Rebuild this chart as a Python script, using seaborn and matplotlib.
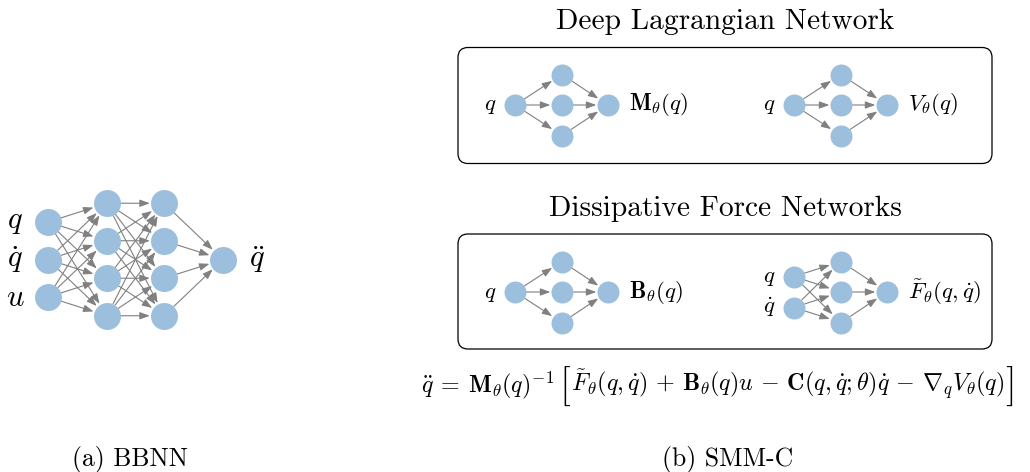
import numpy as np
import pandas as pd
import matplotlib
matplotlib.use('Agg')
import matplotlib.pyplot as plt
import seaborn as sns
from matplotlib.patches import FancyArrowPatch, FancyBboxPatch

# Diagram content
bbnn_inputs = ['$q$', r'$\dot{q}$', '$u$']
bbnn_hidden = [4, 4]
bbnn_output = r'$\ddot{q}$'

sub_inputs = [['$q$'], ['$q$'], ['$q$'], ['$q$', r'$\dot{q}$']]
sub_hidden = [3, 3, 3, 3]
sub_outputs = [r'$\mathbf{M}_\theta(q)$', r'$V_\theta(q)$',
               r'$\mathbf{B}_\theta(q)$', r'$\tilde{F}_\theta(q,\dot{q})$']
group_titles = ['Deep Lagrangian Network', 'Dissipative Force Networks']
captions = ['(a) BBNN', '(b) SMM-C']
eq_lhs = r'$\ddot{q}\:=\:\mathbf{M}_\theta(q)^{-1}$'
eq_rhs = (r'$\tilde{F}_\theta(q,\dot{q})\,+\,\mathbf{B}_\theta(q)u\,-\,'
          r'\mathbf{C}(q,\dot{q};\theta)\dot{q}\,-\,\nabla_q V_\theta(q)$')

# Layout (pixel coordinates)
node_color = '#9bbfdc'
arrow_color = '#808080'
bbnn_x = [48, 107, 164, 223]
bbnn_cy = 259.5
bbnn_sp = 37.5
bbnn_r = 13.5
sub_origin = [(515, 105), (794, 105), (515, 292), (794, 292)]
sub_dx = [0, 47, 93]
sub_sp = 30.5
sub_in_sp = 31
sub_r = 11
boxes = [(458, 47.5, 534, 116), (458, 234, 534, 115)]
title_y = [29, 216]

plt.rcParams['mathtext.fontset'] = 'cm'
fig = plt.figure(figsize=(10.3, 4.72), dpi=100)
ax = fig.add_axes([0, 0, 1, 1])


def column(x, n, cy, sp):
    return [(x, cy + (i - (n - 1) / 2) * sp) for i in range(n)]


def connect(src, dst, r):
    pt = r * 0.72
    for a in src:
        for b in dst:
            ax.add_patch(FancyArrowPatch(a, b, arrowstyle='-|>,head_length=0.6,head_width=0.22',
                                         mutation_scale=10, color=arrow_color, lw=0.8,
                                         shrinkA=pt, shrinkB=pt + 0.5, zorder=1))


# BBNN
big_nodes = []
layers = [column(bbnn_x[0], len(bbnn_inputs), bbnn_cy, bbnn_sp)]
for k, n in enumerate(bbnn_hidden):
    layers.append(column(bbnn_x[k + 1], n, bbnn_cy, bbnn_sp))
layers.append(column(bbnn_x[-1], 1, bbnn_cy, bbnn_sp))
for l in layers:
    big_nodes += l
for a, b in zip(layers[:-1], layers[1:]):
    connect(a, b, bbnn_r)
for (x, y), lab in zip(layers[0], bbnn_inputs):
    ax.text(x - 33, y, lab, fontsize=22, ha='center', va='center')
ax.text(bbnn_x[-1] + 34, bbnn_cy, bbnn_output, fontsize=22, ha='center', va='center')

# SMM-C sub-networks
small_nodes = []
for (ox, oy), ins, nh, out in zip(sub_origin, sub_inputs, sub_hidden, sub_outputs):
    l0 = column(ox + sub_dx[0], len(ins), oy, sub_in_sp)
    l1 = column(ox + sub_dx[1], nh, oy, sub_sp)
    l2 = column(ox + sub_dx[2], 1, oy, sub_sp)
    small_nodes += l0 + l1 + l2
    connect(l0, l1, sub_r)
    connect(l1, l2, sub_r)
    for (x, y), lab in zip(l0, ins):
        ax.text(x - 25, y, lab, fontsize=16.5, ha='center', va='center')
    ax.text(ox + sub_dx[2] + 21, oy, out, fontsize=16.5, ha='left', va='center')

big = pd.DataFrame(big_nodes, columns=['x', 'y'])
small = pd.DataFrame(small_nodes, columns=['x', 'y'])
sns.scatterplot(data=big, x='x', y='y', s=(2 * bbnn_r * 0.72) ** 2, color=node_color,
                linewidth=0, ax=ax, zorder=2)
sns.scatterplot(data=small, x='x', y='y', s=(2 * sub_r * 0.72) ** 2, color=node_color,
                linewidth=0, ax=ax, zorder=2)

for (bx, by, bw, bh), t, ty in zip(boxes, group_titles, title_y):
    ax.add_patch(FancyBboxPatch((bx, by), bw, bh, boxstyle='round,pad=0,rounding_size=10',
                                fill=False, ec='black', lw=0.9))
    ax.text(725, ty, t, fontsize=21.2, family='cmr10', ha='center', va='baseline')

ax.text(130, 466, captions[0], fontsize=18.5, family='cmr10', ha='center', va='baseline')
ax.text(728, 466, captions[1], fontsize=18.5, family='cmr10', ha='center', va='baseline')

ax.set_xlim(0, 1030)
ax.set_ylim(472, 0)
ax.axis('off')

# equation with tall brackets, pieces laid out one after another
renderer = fig.canvas.get_renderer()
pieces = [(eq_lhs, 17.3, None, 392, 5), ('[', 28, 'cmr10', 397, 1),
          (eq_rhs, 17.3, None, 392, 1), (']', 28, 'cmr10', 397, 0)]
x = 421
for txt, fs, fam, y, gap in pieces:
    kw = {'family': fam} if fam else {}
    t = ax.text(x, y, txt, fontsize=fs, ha='left', va='baseline', **kw)
    x = t.get_window_extent(renderer).x1 + gap

fig.savefig('out.png', dpi=100)
